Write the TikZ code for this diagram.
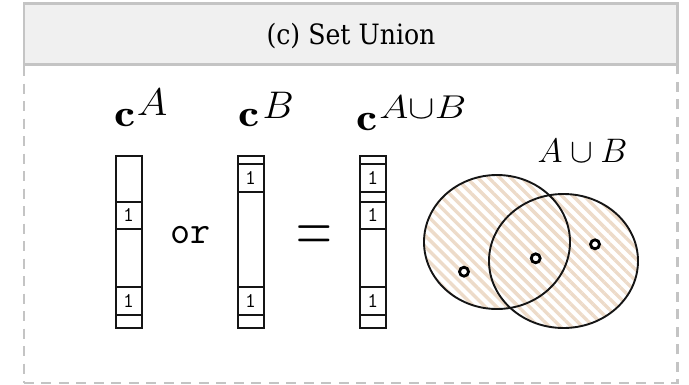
\RequirePackage{fix-cm}
\documentclass[tikz,border=0pt]{standalone}
\usepackage{fontspec}
\newfontfamily\headfont{DejaVu Serif Condensed}
\usetikzlibrary{patterns.meta,shapes.geometric}
\definecolor{hdrfill}{HTML}{F0F0F0}
\definecolor{hdrline}{HTML}{C4C4C4}
\definecolor{hatch}{HTML}{EDDBC9}
\definecolor{ink}{HTML}{151515}
\newcommand{\bigc}{\scalebox{1.25}[1]{$\mathbf{c}$}}
\newcommand{\supr}[4]{\raisebox{#1}{\fontsize{#2}{40}\selectfont\scalebox{#3}[1]{$#4$}}}
\begin{document}
\begin{tikzpicture}[x=1pt,y=-1pt,
  hdr/.style={draw=hdrline, fill=hdrfill, line width=2.3pt, inner sep=0pt, anchor=north west},
  panel/.style={draw=hdrline, line width=2.3pt, dash pattern=on 10pt off 7.5pt, inner sep=0pt, anchor=north west},
  col/.style={draw=ink, line width=2pt, minimum width=26pt, inner sep=0pt, anchor=north},
  cell/.style={draw=ink, line width=2pt, minimum width=26pt, minimum height=27.5pt, inner sep=0pt,
    font=\ttfamily\fontsize{21}{23}\selectfont},
  lbl/.style={inner sep=0pt, anchor=base west, font=\fontsize{38}{40}\selectfont},
  setline/.style={draw=ink, line width=1.9pt, ellipse, inner sep=0pt},
  hatchfill/.style={pattern={Lines[angle=-45,distance=7.8pt,line width=3.4pt]}, pattern color=hatch},
  dot/.style={circle, draw=black, line width=2.8pt, minimum size=9pt, inner sep=0pt, fill=white}
]
\useasboundingbox (0,0) rectangle (689,384);
% panel and header
\node[panel, minimum width=653.6pt, minimum height=318.7pt] (body) at (22.7,63.3) {};
\node[hdr, minimum width=653.6pt, minimum height=61.1pt] (header) at (22.7,2.2) {};
\node[anchor=base, inner sep=0pt, font=\headfont\fontsize{28}{30}\selectfont] (title) at (351,44.3) {(c) Set Union};

% labels
\node[lbl] (labA) at (114.6,126) {\bigc\hspace{1pt}\supr{11pt}{38.5}{1.08}{A}};
\node[lbl] (labB) at (237.8,126.5) {\bigc\hspace{3.5pt}\supr{8.4pt}{38.5}{1.02}{B}};
\node[lbl] (labC) at (356.6,130) {\bigc\hspace{1.5pt}\supr{12pt}{33}{1.2}{A{\cup}B}};

% column A
\node[col, minimum height=172.5pt] (colA) at (128.5,154.5) {};
\node[cell] (a1) at (128.5,215.35) {1};
\node[cell] (a2) at (128.5,301.15) {1};
% column B
\node[col, minimum height=172.5pt] (colB) at (250.5,154.5) {};
\node[cell] (b1) at (250.5,177.85) {1};
\node[cell] (b2) at (250.5,301.15) {1};
% column C
\node[col, minimum height=172.5pt] (colC) at (372.9,154.5) {};
\node[cell] (c1) at (372.9,177.85) {1};
\node[cell] (c2) at (372.9,215.35) {1};
\node[cell] (c3) at (372.9,301.15) {1};

% operators
\node[anchor=base, inner sep=0pt, font=\ttfamily\fontsize{39}{41}\selectfont] (orop) at (190.3,243.3) {or};
\node[anchor=base, inner sep=0pt] (eqop) at (314.5,252.4) {\fontsize{75}{78}\selectfont\scalebox{0.66}[1]{$=$}};

% Venn diagram
\path[hatchfill] (497,242) ellipse [x radius=73, y radius=67];
\path[hatchfill] (563.5,261) ellipse [x radius=74.5, y radius=67];
\node[setline, minimum width=146pt, minimum height=134pt] (setA) at (497,242) {};
\node[setline, minimum width=149pt, minimum height=134pt] (setB) at (563.5,261) {};
\node[dot] (d1) at (464,271.7) {};
\node[dot] (d2) at (535.7,258.3) {};
\node[dot] (d3) at (595,244.3) {};
\node[anchor=base, inner sep=0pt, font=\fontsize{34}{38}\selectfont] (lblU) at (582.5,162) {$A\cup B$};
\end{tikzpicture}
\end{document}
